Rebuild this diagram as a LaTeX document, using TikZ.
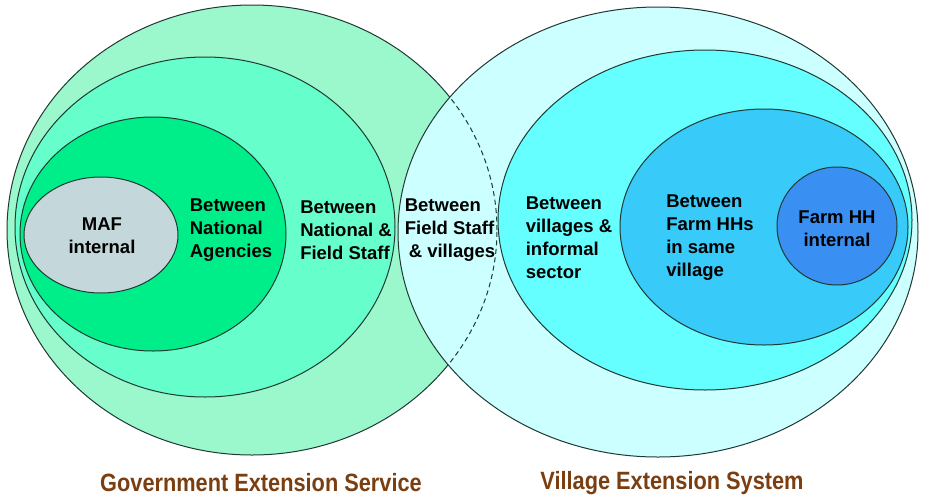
\documentclass[tikz,border=0pt]{standalone}
\usepackage{fontspec}
\setmainfont{Liberation Sans}
\newfontfamily\narrowfont[FakeStretch=0.87]{Liberation Sans}
\usepackage{tikz}

\definecolor{govOuter}{HTML}{9BF7CC}
\definecolor{govMid}{HTML}{66FFCC}
\definecolor{govInner}{HTML}{00EE8A}
\definecolor{mafGrey}{HTML}{C4D8DC}
\definecolor{vilOuter}{HTML}{CCFFFF}
\definecolor{vilMid}{HTML}{66FFFF}
\definecolor{vilInner}{HTML}{38CAF8}
\definecolor{farmBlue}{HTML}{3A90F2}
\definecolor{edge}{HTML}{1E3A32}
\definecolor{titlebrown}{HTML}{7A3E10}

\begin{document}
\begin{tikzpicture}[x=1pt, y=-1pt,
      ring/.style={draw=edge, line width=1pt},
      lbl/.style={font=\bfseries\fontsize{18.5}{23}\selectfont, align=left, inner sep=0pt},
      sidetitle/.style={font=\narrowfont\bfseries\fontsize{25}{28}\selectfont, text=titlebrown}]
      \useasboundingbox (0,0) rectangle (932,501);
      % government side
      \filldraw[ring, fill=govOuter] (252,230) ellipse [x radius=245pt, y radius=225pt];
      \filldraw[ring, fill=govMid] (205,227) ellipse [x radius=190pt, y radius=170pt];
      \filldraw[ring, fill=govInner] (153,234) ellipse [x radius=133pt, y radius=117pt];
      \filldraw[ring, fill=mafGrey] (101,235) ellipse [x radius=77pt, y radius=58pt];
      % village side
      \filldraw[ring, fill=vilOuter] (658,232) ellipse [x radius=260pt, y radius=225pt];
      \begin{scope}
        \clip (658,232) ellipse [x radius=260pt, y radius=225pt];
        \draw[ring, dash pattern=on 5pt off 3.5pt] (252,230) ellipse [x radius=245pt, y radius=225pt];
      \end{scope}
      \filldraw[ring, fill=vilMid] (705,220) ellipse [x radius=207pt, y radius=170pt];
      \filldraw[ring, fill=vilInner] (764,227) ellipse [x radius=144pt, y radius=118pt];
      \filldraw[ring, fill=farmBlue] (837,226) ellipse [x radius=60pt, y radius=59pt];
      % labels
      \node[lbl, align=center] (maf) at (102,236) {MAF\\internal};
      \node[lbl] (natAg) at (231,230) {Between\\National\\Agencies};
      \node[lbl] (natField) at (346,230) {Between\\National \&\\Field Staff};
      \node[lbl] (fieldVil) at (450,230) {Between\\Field Staff\\\hspace{4pt}\& villages};
      \node[lbl] (vilInf) at (569,238) {Between\\villages \&\\informal\\sector};
      \node[lbl] (farmHHs) at (710,238) {Between\\Farm HHs\\in same\\village};
      \node[lbl, align=center] (farmInt) at (837,229) {Farm HH\\internal};
      \node[sidetitle] (gov) at (261,483) {Government Extension Service};
      \node[sidetitle] (vil) at (672,483) {Village Extension System};
    \end{tikzpicture}
\end{document}
